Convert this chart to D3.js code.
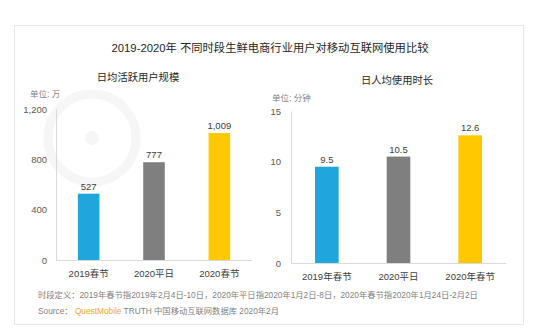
<!DOCTYPE html>
<meta charset="utf-8">
<style>
body { margin: 0; background: #fff; font-family: "Liberation Sans", Arial, "Noto Sans CJK SC", sans-serif; }
.axis path { stroke: #d9d9d9; }
.axis line { display: none; }
.axis text { fill: #595959; font-size: 9.5px; font-family: "Liberation Sans", Arial, "Noto Sans CJK SC", sans-serif; }
</style>
<body>
<div id="chart"></div>
<script src="https://d3js.org/d3.v7.min.js"></script>
<script>
// data
var leftCategories = ["2019春节", "2020平日", "2020春节"];
var dauValues = [527, 777, 1009];
var leftTicks = [0, 400, 800, 1200];

var rightCategories = ["2019年春节", "2020平日", "2020年春节"];
var durationValues = [9.5, 10.5, 12.6];
var rightTicks = [0, 5, 10, 15];

var barColors = ["#20a6dd", "#7f7f7f", "#ffc800"];

var width = 554, height = 335;

var svg = d3.select("#chart").append("svg")
  .attr("width", width)
  .attr("height", height);

// outer frame
svg.append("rect")
  .attr("x", 14.5).attr("y", 25.5)
  .attr("width", 509).attr("height", 299)
  .attr("fill", "#fff")
  .attr("stroke", "#e6e6e6");

// faint watermark logo
var wm = svg.append("g");
wm.append("circle").attr("cx", 92).attr("cy", 138).attr("r", 44)
  .attr("fill", "none").attr("stroke", "#f6f6f6").attr("stroke-width", 9);
wm.append("circle").attr("cx", 92).attr("cy", 138).attr("r", 7).attr("fill", "#f6f6f6");

svg.append("text")
  .attr("x", 270).attr("y", 52)
  .attr("text-anchor", "middle")
  .attr("font-size", 11.3)
  .attr("fill", "#262626")
  .text("2019-2020年 不同时段生鲜电商行业用户对移动互联网使用比较");

function drawPanel(opt) {
  var x = d3.scaleBand()
    .domain(opt.categories)
    .range([opt.x0, opt.x1])
    .paddingInner(0.67)
    .paddingOuter(0.335);
  var y = d3.scaleLinear()
    .domain([0, opt.max])
    .range([opt.y0, opt.y1]);

  svg.append("text")
    .attr("x", opt.titleX).attr("y", opt.titleY)
    .attr("text-anchor", "middle")
    .attr("font-size", 10.3)
    .attr("fill", "#262626")
    .text(opt.title);

  svg.append("text")
    .attr("x", opt.unitX).attr("y", opt.unitY)
    .attr("font-size", 8.5)
    .attr("fill", "#7f7f7f")
    .text(opt.unit);

  svg.append("g")
    .attr("class", "axis")
    .attr("transform", "translate(" + opt.x0 + ",0)")
    .call(d3.axisLeft(y).tickValues(opt.ticks).tickFormat(opt.format).tickSize(0).tickPadding(opt.tickPad));

  svg.append("line")
    .attr("x1", opt.x0).attr("x2", opt.x1)
    .attr("y1", opt.y0 + 0.5).attr("y2", opt.y0 + 0.5)
    .attr("stroke", "#d9d9d9");

  svg.selectAll(null)
    .data(opt.values)
    .enter().append("rect")
    .attr("x", (d, i) => x(opt.categories[i]))
    .attr("y", d => y(d))
    .attr("width", x.bandwidth())
    .attr("height", d => opt.y0 - y(d))
    .attr("fill", (d, i) => barColors[i]);

  svg.selectAll(null)
    .data(opt.values)
    .enter().append("text")
    .attr("x", (d, i) => x(opt.categories[i]) + x.bandwidth() / 2)
    .attr("y", d => y(d) - 4)
    .attr("text-anchor", "middle")
    .attr("font-size", 9.5)
    .attr("fill", "#404040")
    .text(opt.labelFormat);

  svg.selectAll(null)
    .data(opt.categories)
    .enter().append("text")
    .attr("x", d => x(d) + x.bandwidth() / 2)
    .attr("y", opt.y0 + 17)
    .attr("text-anchor", "middle")
    .attr("font-size", 9.5)
    .attr("fill", "#404040")
    .text(d => d);
}

drawPanel({
  categories: leftCategories, values: dauValues, ticks: leftTicks,
  max: 1200, x0: 56, x1: 252, y0: 260, y1: 109,
  format: d3.format(","), labelFormat: d3.format(","), tickPad: 9,
  title: "日均活跃用户规模", titleX: 138, titleY: 81,
  unit: "单位: 万", unitX: 30, unitY: 97
});

drawPanel({
  categories: rightCategories, values: durationValues, ticks: rightTicks,
  max: 15, x0: 291, x1: 506, y0: 263, y1: 111,
  format: d3.format("d"), labelFormat: d3.format(".1f"), tickPad: 10,
  title: "日人均使用时长", titleX: 397, titleY: 84,
  unit: "单位: 分钟", unitX: 272, unitY: 101
});

// footnotes
svg.append("text")
  .attr("x", 38).attr("y", 298)
  .attr("font-size", 8.3)
  .attr("fill", "#7f7f7f")
  .text("时段定义：2019年春节指2019年2月4日-10日，2020年平日指2020年1月2日-8日，2020年春节指2020年1月24日-2月2日");

var src = svg.append("text")
  .attr("x", 38).attr("y", 314)
  .attr("font-size", 8.3)
  .attr("fill", "#7f7f7f");
src.append("tspan").text("Source：  ");
src.append("tspan").attr("fill", "#f5a623").text("QuestMobile");
src.append("tspan").text(" TRUTH 中国移动互联网数据库 2020年2月");
</script>
</body>
